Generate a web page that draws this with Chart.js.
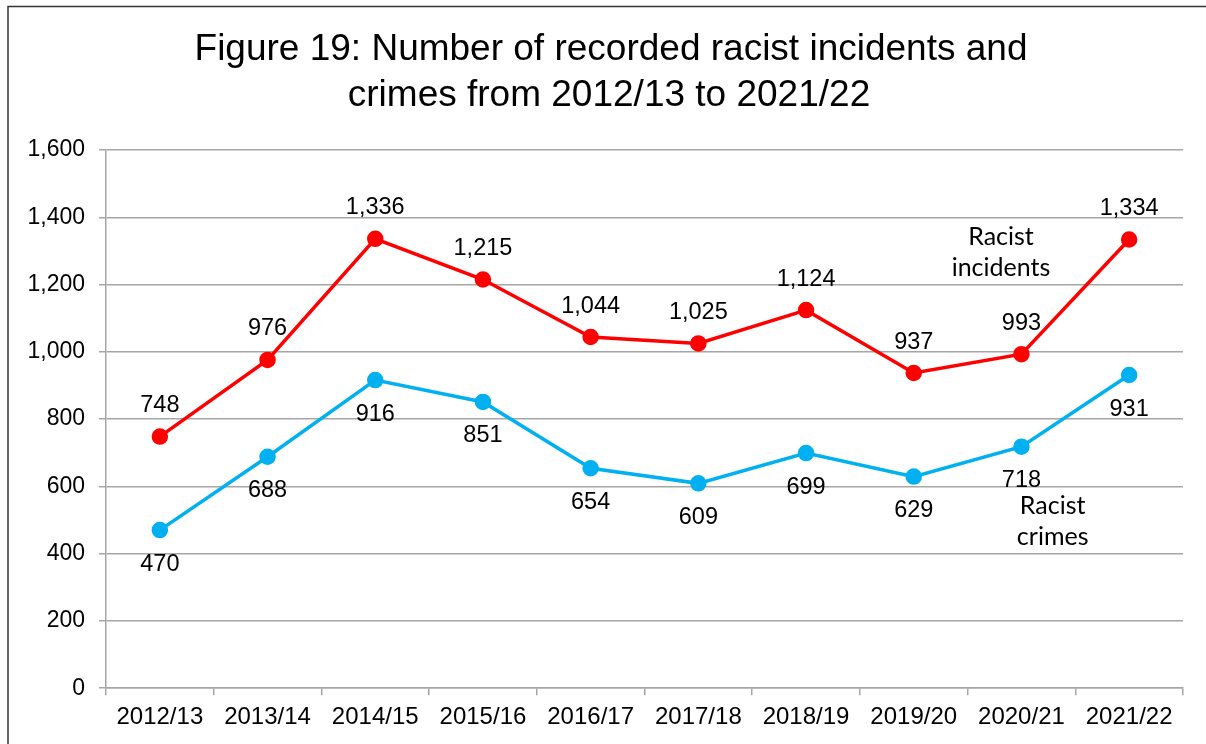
<!DOCTYPE html>
<html>
<head>
<meta charset="utf-8">
<script src="https://cdn.jsdelivr.net/npm/chart.js@4/dist/chart.umd.min.js"></script>
<style>
  html, body { margin: 0; padding: 0; background: #fff; }
  #wrap { width: 1206px; height: 744px; }
</style>
</head>
<body>
<div id="wrap"><canvas id="chart" width="1206" height="744"></canvas></div>
<script>
// values
const years = ['2012/13', '2013/14', '2014/15', '2015/16', '2016/17',
               '2017/18', '2018/19', '2019/20', '2020/21', '2021/22'];
const incidents = [748, 976, 1336, 1215, 1044, 1025, 1124, 937, 993, 1334];
const crimes = [470, 688, 916, 851, 654, 609, 699, 629, 718, 931];
const titleLines = ['Figure 19: Number of recorded racist incidents and',
                    'crimes from 2012/13 to 2021/22'];

const RED = '#ff0000';
const BLUE = '#00b0f0';
const GRID = '#a6a6a6';
const ARIAL = '"Liberation Sans", Arial, sans-serif';

const fmt = v => Number(v).toLocaleString('en-US');

// series names written next to the lines (x = category index, y = value)
const seriesNotes = [
  { lines: ['Racist', 'incidents'], x: 7.81, y: 1295 },
  { lines: ['Racist', 'crimes'], x: 8.29, y: 495 }
];

const framePlugin = {
  id: 'frame',
  beforeDraw(chart) {
    const ctx = chart.ctx;
    ctx.save();
    ctx.fillStyle = '#fff';
    ctx.fillRect(0, 0, chart.width, chart.height);
    ctx.strokeStyle = '#333';
    ctx.lineWidth = 1.5;
    ctx.strokeRect(8, 6.5, chart.width + 20, chart.height + 20);
    // title
    ctx.fillStyle = '#000';
    ctx.font = '37px ' + ARIAL;
    ctx.textAlign = 'center';
    ctx.textBaseline = 'middle';
    ctx.fillText(titleLines[0], 611, 50);
    ctx.fillText(titleLines[1], 609, 96);
    ctx.restore();
  }
};

const labelPlugin = {
  id: 'pointLabels',
  afterDatasetsDraw(chart) {
    const ctx = chart.ctx;
    ctx.save();
    ctx.font = '23.5px ' + ARIAL;
    ctx.fillStyle = '#000';
    ctx.textAlign = 'center';
    ctx.textBaseline = 'middle';
    chart.data.datasets.forEach((ds, i) => {
      const meta = chart.getDatasetMeta(i);
      const dy = i === 0 ? -31 : 34;
      meta.data.forEach((pt, j) => {
        ctx.fillText(fmt(ds.data[j]), pt.x, pt.y + dy);
      });
    });
    // series notes
    const xs = chart.scales.x, ys = chart.scales.y;
    ctx.font = '25px Lato, "Open Sans", sans-serif';
    seriesNotes.forEach(n => {
      const cx = xs.getPixelForValue(n.x);
      const cy = ys.getPixelForValue(n.y);
      n.lines.forEach((t, k) => {
        ctx.fillText(t, cx, cy + (k - (n.lines.length - 1) / 2) * 31);
      });
    });
    ctx.restore();
  }
};

new Chart(document.getElementById('chart'), {
  type: 'line',
  data: {
    labels: years,
    datasets: [
      {
        label: 'Racist incidents',
        data: incidents,
        borderColor: RED,
        backgroundColor: RED,
        borderWidth: 3.5,
        pointRadius: 6.5,
        pointBackgroundColor: RED,
        pointBorderColor: RED,
        tension: 0,
        fill: false
      },
      {
        label: 'Racist crimes',
        data: crimes,
        borderColor: BLUE,
        backgroundColor: BLUE,
        borderWidth: 3.5,
        pointRadius: 6.5,
        pointBackgroundColor: BLUE,
        pointBorderColor: BLUE,
        tension: 0,
        fill: false
      }
    ]
  },
  options: {
    responsive: false,
    animation: false,
    layout: { padding: { top: 150, left: 10, right: 23, bottom: 4 } },
    plugins: {
      legend: { display: false },
      tooltip: { enabled: false },
      title: { display: false }
    },
    scales: {
      x: {
        offset: true,
        grid: {
          offset: true,
          drawOnChartArea: false,
          drawTicks: true,
          tickLength: 7,
          color: GRID,
          lineWidth: 1.5
        },
        border: { color: GRID, width: 1.5 },
        ticks: {
          color: '#000',
          font: { family: ARIAL, size: 24 },
          padding: 8,
          maxRotation: 0,
          autoSkip: false
        }
      },
      y: {
        min: 0,
        max: 1600,
        afterFit(scale) { scale.width = 96; },
        grid: {
          color: GRID,
          lineWidth: 1.5,
          drawTicks: true,
          tickLength: 7
        },
        border: { color: GRID, width: 1.5 },
        ticks: {
          stepSize: 200,
          color: '#000',
          font: { family: ARIAL, size: 23 },
          padding: 14,
          callback: v => fmt(v)
        }
      }
    }
  },
  plugins: [framePlugin, labelPlugin]
});
</script>
</body>
</html>
